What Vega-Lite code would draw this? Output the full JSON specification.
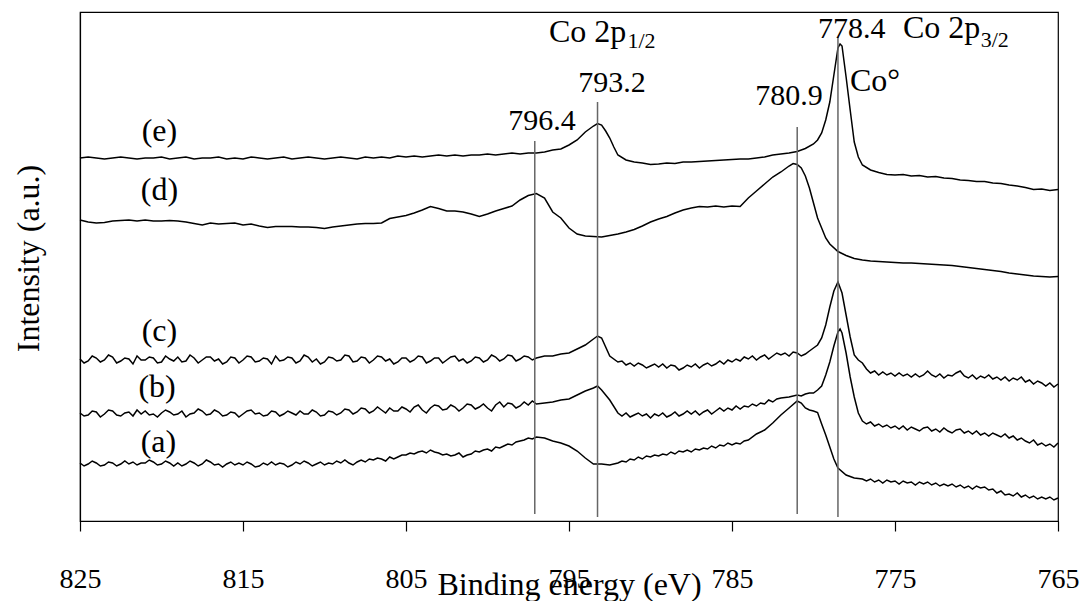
{
"$schema": "https://vega.github.io/schema/vega-lite/v6.json",
"width": 978, "height": 509,
"autosize": "none",
"padding": {"left": 80, "top": 12, "right": 28, "bottom": 80},
"background": "white",
"config": {"view": {"stroke": "black", "strokeWidth": 1.2}, "font": "Liberation Serif"},
"datasets": {
"spectra": [
{"s":"e","x":825,"y":363},{"s":"e","x":824.5,"y":364},{"s":"e","x":824,"y":363},{"s":"e","x":823.5,"y":362},{"s":"e","x":823,"y":363},{"s":"e","x":822.5,"y":364},{"s":"e","x":822,"y":363},{"s":"e","x":821.5,"y":362},{"s":"e","x":821,"y":363},{"s":"e","x":820.5,"y":363},
{"s":"e","x":820,"y":364},{"s":"e","x":819.5,"y":362},{"s":"e","x":819,"y":363},{"s":"e","x":818.5,"y":364},{"s":"e","x":818,"y":362},{"s":"e","x":817.5,"y":363},{"s":"e","x":817,"y":363},{"s":"e","x":816.5,"y":364},{"s":"e","x":816,"y":362},{"s":"e","x":815.5,"y":363},
{"s":"e","x":815,"y":362},{"s":"e","x":814.5,"y":364},{"s":"e","x":814,"y":363},{"s":"e","x":813.5,"y":362},{"s":"e","x":813,"y":363},{"s":"e","x":812.5,"y":364},{"s":"e","x":812,"y":362},{"s":"e","x":811.5,"y":363},{"s":"e","x":811,"y":364},{"s":"e","x":810.5,"y":363},
{"s":"e","x":810,"y":362},{"s":"e","x":809.5,"y":363},{"s":"e","x":809,"y":364},{"s":"e","x":808.5,"y":363},{"s":"e","x":808,"y":362},{"s":"e","x":807.5,"y":364},{"s":"e","x":807,"y":363},{"s":"e","x":806.5,"y":364},{"s":"e","x":806,"y":363},{"s":"e","x":805.5,"y":365},
{"s":"e","x":805,"y":364},{"s":"e","x":804.5,"y":365},{"s":"e","x":804,"y":364},{"s":"e","x":803.5,"y":365},{"s":"e","x":803,"y":366},{"s":"e","x":802.5,"y":365},{"s":"e","x":802,"y":366},{"s":"e","x":801.5,"y":365},{"s":"e","x":801,"y":366},{"s":"e","x":800.5,"y":366},
{"s":"e","x":800,"y":367},{"s":"e","x":799.5,"y":366},{"s":"e","x":799,"y":367},{"s":"e","x":798.5,"y":368},{"s":"e","x":798,"y":367},{"s":"e","x":797.5,"y":368},{"s":"e","x":797,"y":368},{"s":"e","x":796.5,"y":369},{"s":"e","x":796,"y":371},{"s":"e","x":795.5,"y":372},
{"s":"e","x":795,"y":376},{"s":"e","x":794.5,"y":381},{"s":"e","x":794,"y":389},{"s":"e","x":793.5,"y":395},{"s":"e","x":793.25,"y":397.5},{"s":"e","x":793,"y":396},{"s":"e","x":792.75,"y":390},{"s":"e","x":792.5,"y":383},{"s":"e","x":792.25,"y":374},{"s":"e","x":792,"y":366},
{"s":"e","x":791.5,"y":361},{"s":"e","x":791,"y":359},{"s":"e","x":790.5,"y":358},{"s":"e","x":790,"y":356.5},{"s":"e","x":789.5,"y":357},{"s":"e","x":789,"y":358},{"s":"e","x":788.5,"y":357.5},{"s":"e","x":788,"y":359},{"s":"e","x":787.5,"y":359},{"s":"e","x":787,"y":359.5},
{"s":"e","x":786.5,"y":360},{"s":"e","x":786,"y":360.5},{"s":"e","x":785.5,"y":361},{"s":"e","x":785,"y":361.5},{"s":"e","x":784.5,"y":362},{"s":"e","x":784,"y":362},{"s":"e","x":783.5,"y":363},{"s":"e","x":783,"y":364},{"s":"e","x":782.5,"y":366},{"s":"e","x":782,"y":367},
{"s":"e","x":781.5,"y":368},{"s":"e","x":781,"y":369.5},{"s":"e","x":780.5,"y":372.5},{"s":"e","x":780,"y":377},{"s":"e","x":779.75,"y":381},{"s":"e","x":779.5,"y":388},{"s":"e","x":779.25,"y":401},{"s":"e","x":779,"y":419},{"s":"e","x":778.75,"y":446},{"s":"e","x":778.5,"y":473},
{"s":"e","x":778.37,"y":477},{"s":"e","x":778.25,"y":475},{"s":"e","x":778,"y":444},{"s":"e","x":777.75,"y":411},{"s":"e","x":777.5,"y":379},{"s":"e","x":777.25,"y":364},{"s":"e","x":777,"y":356},{"s":"e","x":776.5,"y":351},{"s":"e","x":776,"y":348.5},{"s":"e","x":775.5,"y":346.5},
{"s":"e","x":775,"y":346},{"s":"e","x":774.5,"y":346.5},{"s":"e","x":774,"y":345},{"s":"e","x":773.5,"y":345.5},{"s":"e","x":773,"y":344},{"s":"e","x":772.5,"y":344.5},{"s":"e","x":772,"y":343},{"s":"e","x":771.5,"y":342.5},{"s":"e","x":771,"y":341},{"s":"e","x":770.5,"y":340.5},
{"s":"e","x":770,"y":339.5},{"s":"e","x":769.5,"y":339.5},{"s":"e","x":769,"y":338},{"s":"e","x":768.5,"y":337.5},{"s":"e","x":768,"y":336},{"s":"e","x":767.5,"y":335},{"s":"e","x":767,"y":333.5},{"s":"e","x":766.5,"y":331.5},{"s":"e","x":766,"y":332},{"s":"e","x":765.5,"y":330.5},{"s":"e","x":765,"y":331.5},

{"s":"d","x":825,"y":301},{"s":"d","x":824.5,"y":299},{"s":"d","x":824,"y":298},{"s":"d","x":823.5,"y":298.5},{"s":"d","x":823,"y":300},{"s":"d","x":822.5,"y":300.5},{"s":"d","x":822,"y":301},{"s":"d","x":821.5,"y":300},{"s":"d","x":821,"y":301},{"s":"d","x":820.5,"y":300},
{"s":"d","x":820,"y":300},{"s":"d","x":819.5,"y":300.5},{"s":"d","x":819,"y":300},{"s":"d","x":818.5,"y":299},{"s":"d","x":818,"y":297.5},{"s":"d","x":817.5,"y":296},{"s":"d","x":817,"y":298},{"s":"d","x":816.5,"y":297},{"s":"d","x":816,"y":297.5},{"s":"d","x":815.5,"y":298},
{"s":"d","x":815,"y":296},{"s":"d","x":814.5,"y":297},{"s":"d","x":814,"y":295},{"s":"d","x":813.5,"y":293.5},{"s":"d","x":813,"y":294.5},{"s":"d","x":812.5,"y":294.5},{"s":"d","x":812,"y":294.5},{"s":"d","x":811.5,"y":294},{"s":"d","x":811,"y":294},{"s":"d","x":810.5,"y":293.5},
{"s":"d","x":810,"y":292.5},{"s":"d","x":809.5,"y":294},{"s":"d","x":809,"y":295},{"s":"d","x":808.5,"y":296},{"s":"d","x":808,"y":297},{"s":"d","x":807.5,"y":297.5},{"s":"d","x":807,"y":297.5},{"s":"d","x":806.5,"y":298},{"s":"d","x":806,"y":302.5},{"s":"d","x":805.5,"y":304},
{"s":"d","x":805,"y":305.5},{"s":"d","x":804.5,"y":308},{"s":"d","x":804,"y":311},{"s":"d","x":803.5,"y":314.5},{"s":"d","x":803,"y":312.5},{"s":"d","x":802.5,"y":310},{"s":"d","x":802,"y":310},{"s":"d","x":801.5,"y":309},{"s":"d","x":801,"y":307},{"s":"d","x":800.5,"y":304.5},
{"s":"d","x":800,"y":307},{"s":"d","x":799.5,"y":310},{"s":"d","x":799,"y":312.5},{"s":"d","x":798.5,"y":315},{"s":"d","x":798,"y":321},{"s":"d","x":797.5,"y":325.5},{"s":"d","x":797,"y":327.5},{"s":"d","x":796.5,"y":323},{"s":"d","x":796,"y":309},{"s":"d","x":795.5,"y":303},
{"s":"d","x":795,"y":293},{"s":"d","x":794.5,"y":287},{"s":"d","x":794,"y":285},{"s":"d","x":793.5,"y":284.5},{"s":"d","x":793,"y":284},{"s":"d","x":792.5,"y":285.5},{"s":"d","x":792,"y":287},{"s":"d","x":791.5,"y":289},{"s":"d","x":791,"y":291.5},{"s":"d","x":790.5,"y":295},
{"s":"d","x":790,"y":299},{"s":"d","x":789.5,"y":302},{"s":"d","x":789,"y":304.5},{"s":"d","x":788.5,"y":308},{"s":"d","x":788,"y":311},{"s":"d","x":787.5,"y":313},{"s":"d","x":787,"y":314.5},{"s":"d","x":786.5,"y":314},{"s":"d","x":786,"y":315},{"s":"d","x":785.5,"y":314},
{"s":"d","x":785,"y":315},{"s":"d","x":784.5,"y":314.5},{"s":"d","x":784,"y":323},{"s":"d","x":783.5,"y":330},{"s":"d","x":783,"y":337},{"s":"d","x":782.5,"y":344},{"s":"d","x":782,"y":349},{"s":"d","x":781.75,"y":352},{"s":"d","x":781.5,"y":355},{"s":"d","x":781.25,"y":357.5},
{"s":"d","x":781,"y":356.5},{"s":"d","x":780.75,"y":353},{"s":"d","x":780.5,"y":345},{"s":"d","x":780.25,"y":333},{"s":"d","x":780,"y":318},{"s":"d","x":779.75,"y":303},{"s":"d","x":779.5,"y":293},{"s":"d","x":779.25,"y":283},{"s":"d","x":779,"y":277},{"s":"d","x":778.5,"y":269.5},
{"s":"d","x":778,"y":265.5},{"s":"d","x":777.5,"y":262.5},{"s":"d","x":777,"y":261},{"s":"d","x":776.5,"y":260},{"s":"d","x":776,"y":259.5},{"s":"d","x":775.5,"y":259},{"s":"d","x":775,"y":258.5},{"s":"d","x":774.5,"y":258},{"s":"d","x":774,"y":258},{"s":"d","x":773.5,"y":257.5},
{"s":"d","x":773,"y":257},{"s":"d","x":772.5,"y":256.5},{"s":"d","x":772,"y":256},{"s":"d","x":771.5,"y":255.5},{"s":"d","x":771,"y":254.5},{"s":"d","x":770.5,"y":253.5},{"s":"d","x":770,"y":252.5},{"s":"d","x":769.5,"y":251.5},{"s":"d","x":769,"y":250.5},{"s":"d","x":768.5,"y":249.5},
{"s":"d","x":768,"y":248},{"s":"d","x":767.5,"y":247},{"s":"d","x":767,"y":246},{"s":"d","x":766.5,"y":245},{"s":"d","x":766,"y":244.5},{"s":"d","x":765.5,"y":244},{"s":"d","x":765,"y":244.5},

{"s":"c","x":825,"y":162},{"s":"c","x":824.75,"y":158},{"s":"c","x":824.5,"y":160},{"s":"c","x":824.25,"y":165},{"s":"c","x":824,"y":163},{"s":"c","x":823.75,"y":159},{"s":"c","x":823.5,"y":161},{"s":"c","x":823.25,"y":166},
{"s":"c","x":823,"y":164},{"s":"c","x":822.75,"y":158},{"s":"c","x":822.5,"y":160},{"s":"c","x":822.25,"y":163},{"s":"c","x":822,"y":162},{"s":"c","x":821.75,"y":157},{"s":"c","x":821.5,"y":165},{"s":"c","x":821.25,"y":161},
{"s":"c","x":821,"y":161},{"s":"c","x":820.75,"y":164},{"s":"c","x":820.5,"y":163},{"s":"c","x":820.25,"y":158},{"s":"c","x":820,"y":159},{"s":"c","x":819.75,"y":165},{"s":"c","x":819.5,"y":162},{"s":"c","x":819.25,"y":160},
{"s":"c","x":819,"y":164},{"s":"c","x":818.75,"y":159},{"s":"c","x":818.5,"y":160},{"s":"c","x":818.25,"y":166},{"s":"c","x":818,"y":163},{"s":"c","x":817.75,"y":158},{"s":"c","x":817.5,"y":161},{"s":"c","x":817.25,"y":164},
{"s":"c","x":817,"y":164},{"s":"c","x":816.75,"y":160},{"s":"c","x":816.5,"y":162},{"s":"c","x":816.25,"y":157},{"s":"c","x":816,"y":159},{"s":"c","x":815.75,"y":164},{"s":"c","x":815.5,"y":163},{"s":"c","x":815.25,"y":158},
{"s":"c","x":815,"y":161},{"s":"c","x":814.75,"y":165},{"s":"c","x":814.5,"y":164},{"s":"c","x":814.25,"y":159},{"s":"c","x":814,"y":160},{"s":"c","x":813.75,"y":163},{"s":"c","x":813.5,"y":162},{"s":"c","x":813.25,"y":157},
{"s":"c","x":813,"y":165},{"s":"c","x":812.75,"y":160},{"s":"c","x":812.5,"y":161},{"s":"c","x":812.25,"y":164},{"s":"c","x":812,"y":163},{"s":"c","x":811.75,"y":158},{"s":"c","x":811.5,"y":160},{"s":"c","x":811.25,"y":166},
{"s":"c","x":811,"y":164},{"s":"c","x":810.75,"y":159},{"s":"c","x":810.5,"y":162},{"s":"c","x":810.25,"y":157},{"s":"c","x":810,"y":159},{"s":"c","x":809.75,"y":164},{"s":"c","x":809.5,"y":163},{"s":"c","x":809.25,"y":160},
{"s":"c","x":809,"y":161},{"s":"c","x":808.75,"y":166},{"s":"c","x":808.5,"y":165},{"s":"c","x":808.25,"y":159},{"s":"c","x":808,"y":160},{"s":"c","x":807.75,"y":164},{"s":"c","x":807.5,"y":163},{"s":"c","x":807.25,"y":158},
{"s":"c","x":807,"y":161},{"s":"c","x":806.75,"y":165},{"s":"c","x":806.5,"y":164},{"s":"c","x":806.25,"y":160},{"s":"c","x":806,"y":162},{"s":"c","x":805.75,"y":157},{"s":"c","x":805.5,"y":159},{"s":"c","x":805.25,"y":163},
{"s":"c","x":805,"y":163},{"s":"c","x":804.75,"y":159},{"s":"c","x":804.5,"y":161},{"s":"c","x":804.25,"y":165},{"s":"c","x":804,"y":164},{"s":"c","x":803.75,"y":158},{"s":"c","x":803.5,"y":160},{"s":"c","x":803.25,"y":163},
{"s":"c","x":803,"y":163},{"s":"c","x":802.75,"y":158},{"s":"c","x":802.5,"y":161},{"s":"c","x":802.25,"y":164},{"s":"c","x":802,"y":165},{"s":"c","x":801.75,"y":160},{"s":"c","x":801.5,"y":162},{"s":"c","x":801.25,"y":158},
{"s":"c","x":801,"y":160},{"s":"c","x":800.75,"y":164},{"s":"c","x":800.5,"y":163},{"s":"c","x":800.25,"y":159},{"s":"c","x":800,"y":161},{"s":"c","x":799.75,"y":166},{"s":"c","x":799.5,"y":164},{"s":"c","x":799.25,"y":160},
{"s":"c","x":799,"y":162},{"s":"c","x":798.75,"y":166},{"s":"c","x":798.5,"y":165},{"s":"c","x":798.25,"y":160},{"s":"c","x":798,"y":162},{"s":"c","x":797.75,"y":165},{"s":"c","x":797.5,"y":164},{"s":"c","x":797.25,"y":161},
{"s":"c","x":797,"y":163},{"s":"c","x":796.5,"y":165},{"s":"c","x":796,"y":165},{"s":"c","x":795.5,"y":167},
{"s":"c","x":795,"y":168},{"s":"c","x":794.5,"y":172},{"s":"c","x":794,"y":176},{"s":"c","x":793.5,"y":182},{"s":"c","x":793.25,"y":185},{"s":"c","x":793,"y":183},{"s":"c","x":792.5,"y":165},
{"s":"c","x":792,"y":159},{"s":"c","x":791.75,"y":160},{"s":"c","x":791.5,"y":156},{"s":"c","x":791.25,"y":158},{"s":"c","x":791,"y":155},{"s":"c","x":790.75,"y":158},{"s":"c","x":790.5,"y":156},{"s":"c","x":790.25,"y":153},
{"s":"c","x":790,"y":155},{"s":"c","x":789.75,"y":157},{"s":"c","x":789.5,"y":154},{"s":"c","x":789.25,"y":157},{"s":"c","x":789,"y":153},{"s":"c","x":788.75,"y":156},{"s":"c","x":788.5,"y":155},{"s":"c","x":788.25,"y":151},
{"s":"c","x":788,"y":153},{"s":"c","x":787.75,"y":156},{"s":"c","x":787.5,"y":154},{"s":"c","x":787.25,"y":157},{"s":"c","x":787,"y":153},{"s":"c","x":786.75,"y":156},{"s":"c","x":786.5,"y":158},{"s":"c","x":786.25,"y":155},
{"s":"c","x":786,"y":157},{"s":"c","x":785.75,"y":160},{"s":"c","x":785.5,"y":157},{"s":"c","x":785.25,"y":161},{"s":"c","x":785,"y":159},{"s":"c","x":784.75,"y":162},{"s":"c","x":784.5,"y":160},{"s":"c","x":784.25,"y":164},
{"s":"c","x":784,"y":162},{"s":"c","x":783.75,"y":165},{"s":"c","x":783.5,"y":161},{"s":"c","x":783.25,"y":164},{"s":"c","x":783,"y":166},{"s":"c","x":782.75,"y":162},{"s":"c","x":782.5,"y":165},{"s":"c","x":782.25,"y":168},
{"s":"c","x":782,"y":166},{"s":"c","x":781.75,"y":168},{"s":"c","x":781.5,"y":165},{"s":"c","x":781.25,"y":169},{"s":"c","x":781,"y":168},
{"s":"c","x":780.75,"y":165},{"s":"c","x":780.5,"y":167},{"s":"c","x":780.25,"y":170},{"s":"c","x":780,"y":173},{"s":"c","x":779.75,"y":176},{"s":"c","x":779.5,"y":183},{"s":"c","x":779.25,"y":196},{"s":"c","x":779,"y":214},{"s":"c","x":778.75,"y":230},{"s":"c","x":778.5,"y":239},
{"s":"c","x":778.25,"y":228},{"s":"c","x":778,"y":206},{"s":"c","x":777.75,"y":184},{"s":"c","x":777.5,"y":166},{"s":"c","x":777.25,"y":161},
{"s":"c","x":777,"y":158},{"s":"c","x":776.75,"y":152},{"s":"c","x":776.5,"y":148},{"s":"c","x":776.25,"y":150},{"s":"c","x":776,"y":146},{"s":"c","x":775.75,"y":149},{"s":"c","x":775.5,"y":146},{"s":"c","x":775.25,"y":148},
{"s":"c","x":775,"y":145},{"s":"c","x":774.75,"y":148},{"s":"c","x":774.5,"y":145},{"s":"c","x":774.25,"y":147},{"s":"c","x":774,"y":144},{"s":"c","x":773.75,"y":147},{"s":"c","x":773.5,"y":144},{"s":"c","x":773.25,"y":146},
{"s":"c","x":773,"y":150},{"s":"c","x":772.75,"y":146},{"s":"c","x":772.5,"y":144},{"s":"c","x":772.25,"y":147},{"s":"c","x":772,"y":143},{"s":"c","x":771.75,"y":146},{"s":"c","x":771.5,"y":145},{"s":"c","x":771.25,"y":148},
{"s":"c","x":771,"y":150},{"s":"c","x":770.75,"y":145},{"s":"c","x":770.5,"y":143},{"s":"c","x":770.25,"y":146},{"s":"c","x":770,"y":142},{"s":"c","x":769.75,"y":145},{"s":"c","x":769.5,"y":143},{"s":"c","x":769.25,"y":146},
{"s":"c","x":769,"y":142},{"s":"c","x":768.75,"y":144},{"s":"c","x":768.5,"y":141},{"s":"c","x":768.25,"y":144},{"s":"c","x":768,"y":140},{"s":"c","x":767.75,"y":143},{"s":"c","x":767.5,"y":141},{"s":"c","x":767.25,"y":144},
{"s":"c","x":767,"y":139},{"s":"c","x":766.75,"y":141},{"s":"c","x":766.5,"y":137},{"s":"c","x":766.25,"y":140},{"s":"c","x":766,"y":138},{"s":"c","x":765.75,"y":135},{"s":"c","x":765.5,"y":138},{"s":"c","x":765.25,"y":134},{"s":"c","x":765,"y":137},

{"s":"b","x":825,"y":108},{"s":"b","x":824.75,"y":105},{"s":"b","x":824.5,"y":106},{"s":"b","x":824.25,"y":110},{"s":"b","x":824,"y":109},{"s":"b","x":823.75,"y":104},{"s":"b","x":823.5,"y":107},{"s":"b","x":823.25,"y":111},
{"s":"b","x":823,"y":110},{"s":"b","x":822.75,"y":106},{"s":"b","x":822.5,"y":105},{"s":"b","x":822.25,"y":108},{"s":"b","x":822,"y":109},{"s":"b","x":821.75,"y":105},{"s":"b","x":821.5,"y":111},{"s":"b","x":821.25,"y":107},
{"s":"b","x":821,"y":110},{"s":"b","x":820.75,"y":106},{"s":"b","x":820.5,"y":107},{"s":"b","x":820.25,"y":104},{"s":"b","x":820,"y":108},{"s":"b","x":819.75,"y":111},{"s":"b","x":819.5,"y":109},{"s":"b","x":819.25,"y":106},
{"s":"b","x":819,"y":107},{"s":"b","x":818.75,"y":110},{"s":"b","x":818.5,"y":104},{"s":"b","x":818.25,"y":107},{"s":"b","x":818,"y":108},{"s":"b","x":817.75,"y":112},{"s":"b","x":817.5,"y":110},{"s":"b","x":817.25,"y":106},
{"s":"b","x":817,"y":107},{"s":"b","x":816.75,"y":111},{"s":"b","x":816.5,"y":109},{"s":"b","x":816.25,"y":105},{"s":"b","x":816,"y":106},{"s":"b","x":815.75,"y":109},{"s":"b","x":815.5,"y":108},{"s":"b","x":815.25,"y":104},
{"s":"b","x":815,"y":107},{"s":"b","x":814.75,"y":110},{"s":"b","x":814.5,"y":111},{"s":"b","x":814.25,"y":107},{"s":"b","x":814,"y":108},{"s":"b","x":813.75,"y":105},{"s":"b","x":813.5,"y":106},{"s":"b","x":813.25,"y":110},
{"s":"b","x":813,"y":109},{"s":"b","x":812.75,"y":105},{"s":"b","x":812.5,"y":107},{"s":"b","x":812.25,"y":110},{"s":"b","x":812,"y":108},{"s":"b","x":811.75,"y":106},{"s":"b","x":811.5,"y":110},{"s":"b","x":811.25,"y":107},
{"s":"b","x":811,"y":107},{"s":"b","x":810.75,"y":111},{"s":"b","x":810.5,"y":109},{"s":"b","x":810.25,"y":105},{"s":"b","x":810,"y":106},{"s":"b","x":809.75,"y":110},{"s":"b","x":809.5,"y":109},{"s":"b","x":809.25,"y":106},
{"s":"b","x":809,"y":108},{"s":"b","x":808.75,"y":112},{"s":"b","x":808.5,"y":111},{"s":"b","x":808.25,"y":107},{"s":"b","x":808,"y":109},{"s":"b","x":807.75,"y":113},{"s":"b","x":807.5,"y":112},{"s":"b","x":807.25,"y":108},
{"s":"b","x":807,"y":110},{"s":"b","x":806.75,"y":114},{"s":"b","x":806.5,"y":111},{"s":"b","x":806.25,"y":108},{"s":"b","x":806,"y":113},{"s":"b","x":805.75,"y":110},{"s":"b","x":805.5,"y":110},{"s":"b","x":805.25,"y":114},
{"s":"b","x":805,"y":112},{"s":"b","x":804.75,"y":109},{"s":"b","x":804.5,"y":114},{"s":"b","x":804.25,"y":116},{"s":"b","x":804,"y":111},{"s":"b","x":803.75,"y":108},{"s":"b","x":803.5,"y":113},{"s":"b","x":803.25,"y":116},
{"s":"b","x":803,"y":115},{"s":"b","x":802.75,"y":111},{"s":"b","x":802.5,"y":112},{"s":"b","x":802.25,"y":116},{"s":"b","x":802,"y":114},{"s":"b","x":801.75,"y":110},{"s":"b","x":801.5,"y":113},{"s":"b","x":801.25,"y":117},
{"s":"b","x":801,"y":116},{"s":"b","x":800.75,"y":112},{"s":"b","x":800.5,"y":114},{"s":"b","x":800.25,"y":117},{"s":"b","x":800,"y":113},{"s":"b","x":799.75,"y":110},{"s":"b","x":799.5,"y":116},{"s":"b","x":799.25,"y":119},
{"s":"b","x":799,"y":114},{"s":"b","x":798.75,"y":118},{"s":"b","x":798.5,"y":117},{"s":"b","x":798.25,"y":113},{"s":"b","x":798,"y":115},{"s":"b","x":797.75,"y":119},{"s":"b","x":797.5,"y":116},{"s":"b","x":797.25,"y":120},
{"s":"b","x":797,"y":117},{"s":"b","x":796.5,"y":118},{"s":"b","x":796,"y":119},{"s":"b","x":795.5,"y":121},
{"s":"b","x":795,"y":122},{"s":"b","x":794.5,"y":126},{"s":"b","x":794,"y":130},{"s":"b","x":793.5,"y":133},{"s":"b","x":793.25,"y":135},{"s":"b","x":793,"y":131},{"s":"b","x":792.5,"y":121},
{"s":"b","x":792,"y":108},{"s":"b","x":791.75,"y":105},{"s":"b","x":791.5,"y":108},{"s":"b","x":791.25,"y":104},{"s":"b","x":791,"y":106},{"s":"b","x":790.75,"y":108},{"s":"b","x":790.5,"y":105},{"s":"b","x":790.25,"y":107},
{"s":"b","x":790,"y":103},{"s":"b","x":789.75,"y":107},{"s":"b","x":789.5,"y":105},{"s":"b","x":789.25,"y":108},{"s":"b","x":789,"y":104},{"s":"b","x":788.75,"y":106},{"s":"b","x":788.5,"y":109},{"s":"b","x":788.25,"y":105},
{"s":"b","x":788,"y":107},{"s":"b","x":787.75,"y":110},{"s":"b","x":787.5,"y":107},{"s":"b","x":787.25,"y":110},{"s":"b","x":787,"y":106},{"s":"b","x":786.75,"y":109},{"s":"b","x":786.5,"y":111},{"s":"b","x":786.25,"y":107},
{"s":"b","x":786,"y":110},{"s":"b","x":785.75,"y":113},{"s":"b","x":785.5,"y":110},{"s":"b","x":785.25,"y":113},{"s":"b","x":785,"y":111},{"s":"b","x":784.75,"y":115},{"s":"b","x":784.5,"y":112},{"s":"b","x":784.25,"y":115},
{"s":"b","x":784,"y":114},{"s":"b","x":783.75,"y":117},{"s":"b","x":783.5,"y":115},{"s":"b","x":783.25,"y":118},{"s":"b","x":783,"y":117},{"s":"b","x":782.75,"y":121},{"s":"b","x":782.5,"y":119},{"s":"b","x":782.25,"y":122},
{"s":"b","x":782,"y":123},{"s":"b","x":781.5,"y":124},{"s":"b","x":781,"y":126},
{"s":"b","x":780.75,"y":125},{"s":"b","x":780.5,"y":127},{"s":"b","x":780.25,"y":128},{"s":"b","x":780,"y":128},{"s":"b","x":779.75,"y":131},{"s":"b","x":779.5,"y":135},{"s":"b","x":779.25,"y":146},{"s":"b","x":779,"y":159},{"s":"b","x":778.75,"y":175},{"s":"b","x":778.5,"y":189},
{"s":"b","x":778.37,"y":192},{"s":"b","x":778.25,"y":188},{"s":"b","x":778,"y":168},{"s":"b","x":777.75,"y":144},{"s":"b","x":777.5,"y":124},{"s":"b","x":777.25,"y":108},
{"s":"b","x":777,"y":100},{"s":"b","x":776.75,"y":97},{"s":"b","x":776.5,"y":99},{"s":"b","x":776.25,"y":95},{"s":"b","x":776,"y":97},{"s":"b","x":775.75,"y":94},{"s":"b","x":775.5,"y":96},{"s":"b","x":775.25,"y":93},
{"s":"b","x":775,"y":95},{"s":"b","x":774.75,"y":92},{"s":"b","x":774.5,"y":95},{"s":"b","x":774.25,"y":91},{"s":"b","x":774,"y":94},{"s":"b","x":773.75,"y":92},{"s":"b","x":773.5,"y":90},{"s":"b","x":773.25,"y":93},
{"s":"b","x":773,"y":94},{"s":"b","x":772.75,"y":90},{"s":"b","x":772.5,"y":92},{"s":"b","x":772.25,"y":89},{"s":"b","x":772,"y":93},{"s":"b","x":771.75,"y":90},{"s":"b","x":771.5,"y":88},{"s":"b","x":771.25,"y":91},
{"s":"b","x":771,"y":92},{"s":"b","x":770.75,"y":88},{"s":"b","x":770.5,"y":90},{"s":"b","x":770.25,"y":87},{"s":"b","x":770,"y":90},{"s":"b","x":769.75,"y":86},{"s":"b","x":769.5,"y":88},{"s":"b","x":769.25,"y":85},
{"s":"b","x":769,"y":88},{"s":"b","x":768.75,"y":86},{"s":"b","x":768.5,"y":84},{"s":"b","x":768.25,"y":87},{"s":"b","x":768,"y":83},{"s":"b","x":767.75,"y":85},{"s":"b","x":767.5,"y":81},{"s":"b","x":767.25,"y":83},
{"s":"b","x":767,"y":80},{"s":"b","x":766.75,"y":78},{"s":"b","x":766.5,"y":81},{"s":"b","x":766.25,"y":76},{"s":"b","x":766,"y":78},{"s":"b","x":765.75,"y":75},{"s":"b","x":765.5,"y":77},{"s":"b","x":765.25,"y":74},{"s":"b","x":765,"y":78},

{"s":"a","x":825,"y":58},{"s":"a","x":824.75,"y":55},{"s":"a","x":824.5,"y":57},{"s":"a","x":824.25,"y":60},{"s":"a","x":824,"y":58},{"s":"a","x":823.75,"y":55},{"s":"a","x":823.5,"y":56},{"s":"a","x":823.25,"y":59},
{"s":"a","x":823,"y":58},{"s":"a","x":822.75,"y":55},{"s":"a","x":822.5,"y":57},{"s":"a","x":822.25,"y":60},{"s":"a","x":822,"y":57},{"s":"a","x":821.75,"y":59},{"s":"a","x":821.5,"y":56},{"s":"a","x":821.25,"y":58},
{"s":"a","x":821,"y":58},{"s":"a","x":820.75,"y":61},{"s":"a","x":820.5,"y":59},{"s":"a","x":820.25,"y":56},{"s":"a","x":820,"y":57},{"s":"a","x":819.75,"y":60},{"s":"a","x":819.5,"y":58},{"s":"a","x":819.25,"y":55},
{"s":"a","x":819,"y":58},{"s":"a","x":818.75,"y":55},{"s":"a","x":818.5,"y":57},{"s":"a","x":818.25,"y":60},{"s":"a","x":818,"y":58},{"s":"a","x":817.75,"y":55},{"s":"a","x":817.5,"y":57},{"s":"a","x":817.25,"y":61},
{"s":"a","x":817,"y":59},{"s":"a","x":816.75,"y":56},{"s":"a","x":816.5,"y":57},{"s":"a","x":816.25,"y":54},{"s":"a","x":816,"y":57},{"s":"a","x":815.75,"y":59},{"s":"a","x":815.5,"y":56},{"s":"a","x":815.25,"y":58},
{"s":"a","x":815,"y":56},{"s":"a","x":814.75,"y":59},{"s":"a","x":814.5,"y":57},{"s":"a","x":814.25,"y":54},{"s":"a","x":814,"y":55},{"s":"a","x":813.75,"y":58},{"s":"a","x":813.5,"y":56},{"s":"a","x":813.25,"y":59},
{"s":"a","x":813,"y":56},{"s":"a","x":812.75,"y":58},{"s":"a","x":812.5,"y":57},{"s":"a","x":812.25,"y":54},{"s":"a","x":812,"y":56},{"s":"a","x":811.75,"y":59},{"s":"a","x":811.5,"y":57},{"s":"a","x":811.25,"y":60},
{"s":"a","x":811,"y":58},{"s":"a","x":810.75,"y":55},{"s":"a","x":810.5,"y":57},{"s":"a","x":810.25,"y":59},{"s":"a","x":810,"y":56},{"s":"a","x":809.75,"y":58},{"s":"a","x":809.5,"y":57},{"s":"a","x":809.25,"y":60},
{"s":"a","x":809,"y":58},{"s":"a","x":808.75,"y":61},{"s":"a","x":808.5,"y":58},{"s":"a","x":808.25,"y":56},{"s":"a","x":808,"y":59},{"s":"a","x":807.75,"y":61},{"s":"a","x":807.5,"y":59},{"s":"a","x":807.25,"y":62},
{"s":"a","x":807,"y":61},{"s":"a","x":806.75,"y":63},{"s":"a","x":806.5,"y":62},{"s":"a","x":806.25,"y":60},{"s":"a","x":806,"y":64},{"s":"a","x":805.75,"y":62},{"s":"a","x":805.5,"y":64},{"s":"a","x":805.25,"y":66},
{"s":"a","x":805,"y":66},{"s":"a","x":804.75,"y":68},{"s":"a","x":804.5,"y":67},{"s":"a","x":804.25,"y":69},{"s":"a","x":804,"y":70},{"s":"a","x":803.75,"y":68},{"s":"a","x":803.5,"y":71},{"s":"a","x":803.25,"y":69},
{"s":"a","x":803,"y":68},{"s":"a","x":802.75,"y":66},{"s":"a","x":802.5,"y":67},{"s":"a","x":802.25,"y":65},{"s":"a","x":802,"y":66},{"s":"a","x":801.75,"y":68},{"s":"a","x":801.5,"y":64},{"s":"a","x":801.25,"y":66},
{"s":"a","x":801,"y":67},{"s":"a","x":800.75,"y":70},{"s":"a","x":800.5,"y":69},{"s":"a","x":800.25,"y":71},{"s":"a","x":800,"y":72},{"s":"a","x":799.75,"y":70},{"s":"a","x":799.5,"y":74},{"s":"a","x":799.25,"y":73},
{"s":"a","x":799,"y":75},{"s":"a","x":798.75,"y":77},{"s":"a","x":798.5,"y":76},{"s":"a","x":798.25,"y":79},{"s":"a","x":798,"y":80},{"s":"a","x":797.75,"y":81},{"s":"a","x":797.5,"y":83},{"s":"a","x":797.25,"y":82},
{"s":"a","x":797,"y":84},{"s":"a","x":796.5,"y":83},{"s":"a","x":796,"y":80},{"s":"a","x":795.5,"y":78},
{"s":"a","x":795,"y":75},{"s":"a","x":794.5,"y":70},{"s":"a","x":794,"y":63},{"s":"a","x":793.5,"y":57},{"s":"a","x":793,"y":57},{"s":"a","x":792.5,"y":56},
{"s":"a","x":792,"y":58},{"s":"a","x":791.75,"y":60},{"s":"a","x":791.5,"y":59},{"s":"a","x":791.25,"y":62},{"s":"a","x":791,"y":61},{"s":"a","x":790.75,"y":64},{"s":"a","x":790.5,"y":62},{"s":"a","x":790.25,"y":65},
{"s":"a","x":790,"y":64},{"s":"a","x":789.75,"y":66},{"s":"a","x":789.5,"y":65},{"s":"a","x":789.25,"y":67},{"s":"a","x":789,"y":66},{"s":"a","x":788.75,"y":69},{"s":"a","x":788.5,"y":67},{"s":"a","x":788.25,"y":70},
{"s":"a","x":788,"y":69},{"s":"a","x":787.75,"y":71},{"s":"a","x":787.5,"y":69},{"s":"a","x":787.25,"y":72},{"s":"a","x":787,"y":71},{"s":"a","x":786.75,"y":73},{"s":"a","x":786.5,"y":72},{"s":"a","x":786.25,"y":75},
{"s":"a","x":786,"y":73},{"s":"a","x":785.75,"y":76},{"s":"a","x":785.5,"y":75},{"s":"a","x":785.25,"y":78},{"s":"a","x":785,"y":76},{"s":"a","x":784.75,"y":78},{"s":"a","x":784.5,"y":77},{"s":"a","x":784.25,"y":80},
{"s":"a","x":784,"y":81},{"s":"a","x":783.5,"y":87},{"s":"a","x":783,"y":91},{"s":"a","x":782.5,"y":98},{"s":"a","x":782,"y":106},{"s":"a","x":781.5,"y":113},{"s":"a","x":781,"y":120},{"s":"a","x":780.75,"y":118},
{"s":"a","x":780.5,"y":113},{"s":"a","x":780.25,"y":111},{"s":"a","x":780,"y":110},{"s":"a","x":779.75,"y":108.5},{"s":"a","x":779.5,"y":97},{"s":"a","x":779.25,"y":86},{"s":"a","x":779,"y":74},{"s":"a","x":778.75,"y":62},{"s":"a","x":778.5,"y":53},{"s":"a","x":778,"y":46},
{"s":"a","x":777.5,"y":43},
{"s":"a","x":777,"y":42},{"s":"a","x":776.75,"y":40},{"s":"a","x":776.5,"y":42},{"s":"a","x":776.25,"y":39},{"s":"a","x":776,"y":41},{"s":"a","x":775.75,"y":38},{"s":"a","x":775.5,"y":41},{"s":"a","x":775.25,"y":39},
{"s":"a","x":775,"y":40},{"s":"a","x":774.75,"y":37},{"s":"a","x":774.5,"y":40},{"s":"a","x":774.25,"y":38},{"s":"a","x":774,"y":39},{"s":"a","x":773.75,"y":36},{"s":"a","x":773.5,"y":39},{"s":"a","x":773.25,"y":37},
{"s":"a","x":773,"y":39},{"s":"a","x":772.75,"y":36},{"s":"a","x":772.5,"y":38},{"s":"a","x":772.25,"y":35},{"s":"a","x":772,"y":37},{"s":"a","x":771.75,"y":35},{"s":"a","x":771.5,"y":37},{"s":"a","x":771.25,"y":34},
{"s":"a","x":771,"y":36},{"s":"a","x":770.75,"y":33},{"s":"a","x":770.5,"y":35},{"s":"a","x":770.25,"y":32},{"s":"a","x":770,"y":35},{"s":"a","x":769.75,"y":33},{"s":"a","x":769.5,"y":34},{"s":"a","x":769.25,"y":31},
{"s":"a","x":769,"y":32},{"s":"a","x":768.75,"y":28},{"s":"a","x":768.5,"y":30},{"s":"a","x":768.25,"y":26},{"s":"a","x":768,"y":27},{"s":"a","x":767.75,"y":25},{"s":"a","x":767.5,"y":28},{"s":"a","x":767.25,"y":24},
{"s":"a","x":767,"y":26},{"s":"a","x":766.75,"y":23},{"s":"a","x":766.5,"y":25},{"s":"a","x":766.25,"y":22},{"s":"a","x":766,"y":24},{"s":"a","x":765.75,"y":22},{"s":"a","x":765.5,"y":24},{"s":"a","x":765.25,"y":21},{"s":"a","x":765,"y":23}
],
"refs": [
{"x":797.1,"y":380,"y2":7},
{"x":793.25,"y":419,"y2":4},
{"x":781.0,"y":394,"y2":7},
{"x":778.5,"y":484,"y2":4}
],
"words": [
{"x":820.13,"y":380,"t":"(e)"},
{"x":820.13,"y":321,"t":"(d)"},
{"x":820.13,"y":180,"t":"(c)"},
{"x":820.27,"y":124.5,"t":"(b)"},
{"x":820.19,"y":69.5,"t":"(a)"},
{"x":793.86,"y":479.5,"t":"Co 2p"},
{"x":772.14,"y":482.7,"t":"Co 2p"},
{"x":776.23,"y":430.3,"t":"Co°"}
],
"numbers": [
{"x":796.65,"y":391,"t":"796.4"},
{"x":792.36,"y":429.3,"t":"793.2"},
{"x":781.5,"y":416,"t":"780.9"},
{"x":777.66,"y":482.7,"t":"778.4"}
],
"subs": [
{"x":790.55,"y":472.7,"t":"1/2"},
{"x":768.88,"y":474.3,"t":"3/2"}
]
},
"layer": [
{
"data": {"name": "spectra"},
"mark": {"type": "line", "color": "black", "strokeWidth": 1.5},
"encoding": {
"x": {"field": "x", "type": "quantitative",
 "scale": {"domain": [765, 825], "reverse": true, "nice": false, "zero": false},
 "axis": {"values": [825, 815, 805, 795, 785, 775, 765], "format": "d", "grid": false,
  "tickSize": 10, "tickColor": "black", "tickWidth": 1.2, "domainColor": "black", "domainWidth": 1.2,
  "labelFont": "Liberation Serif", "labelFontSize": 28, "labelColor": "black", "labelPadding": 34, "labelFlush": false,
  "title": "Binding energy (eV)", "titleFont": "Liberation Serif", "titleFontSize": 32, "titleFontWeight": "normal",
  "titleColor": "black", "titleY": 73, "titleBaseline": "alphabetic"}},
"y": {"field": "y", "type": "quantitative",
 "scale": {"domain": [0, 509], "nice": false, "zero": false},
 "axis": {"ticks": false, "labels": false, "grid": false, "domainColor": "black", "domainWidth": 1.2,
  "title": "Intensity (a.u.)", "titleFont": "Liberation Serif", "titleFontSize": 32, "titleFontWeight": "normal",
  "titleColor": "black", "titleX": -42, "titleY": 246, "titleAngle": -90, "titleBaseline": "alphabetic", "titleAlign": "center"}},
"detail": {"field": "s"}
}
},
{
"data": {"name": "refs"},
"mark": {"type": "rule", "color": "#666666", "strokeWidth": 1.5},
"encoding": {
"x": {"field": "x", "type": "quantitative"},
"y": {"field": "y", "type": "quantitative"},
"y2": {"field": "y2"}
}
},
{
"data": {"name": "words"},
"mark": {"type": "text", "font": "Liberation Serif", "fontSize": 32, "color": "black", "align": "center", "baseline": "alphabetic"},
"encoding": {
"x": {"field": "x", "type": "quantitative"},
"y": {"field": "y", "type": "quantitative"},
"text": {"field": "t"}
}
},
{
"data": {"name": "numbers"},
"mark": {"type": "text", "font": "Liberation Serif", "fontSize": 30, "color": "black", "align": "center", "baseline": "alphabetic"},
"encoding": {
"x": {"field": "x", "type": "quantitative"},
"y": {"field": "y", "type": "quantitative"},
"text": {"field": "t"}
}
},
{
"data": {"name": "subs"},
"mark": {"type": "text", "font": "Liberation Serif", "fontSize": 22, "color": "black", "align": "center", "baseline": "alphabetic"},
"encoding": {
"x": {"field": "x", "type": "quantitative"},
"y": {"field": "y", "type": "quantitative"},
"text": {"field": "t"}
}
}
]
}
